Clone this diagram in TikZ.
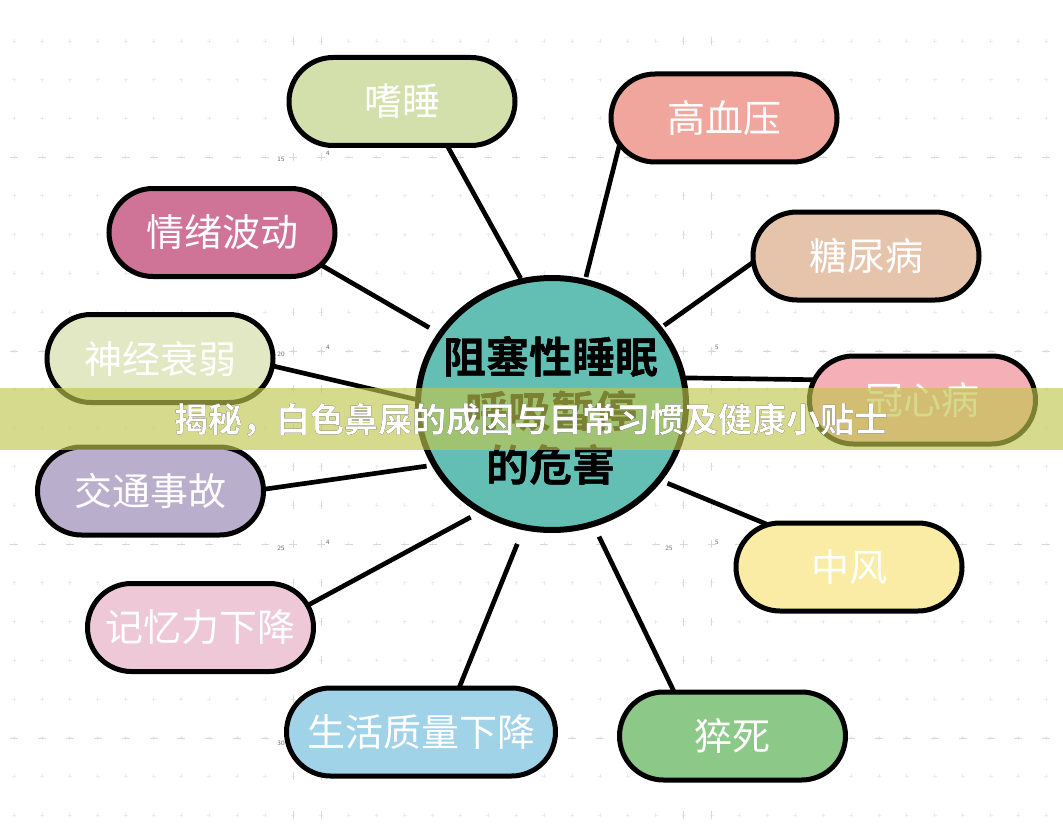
\documentclass[tikz,border=0pt]{standalone}
\usepackage{fontspec}
\usepackage{pdfrender}
\newfontfamily\cjk{Noto Sans CJK SC}[BoldFont={Noto Sans CJK SC Bold}]
\usetikzlibrary{shapes.geometric}

\pgfdeclarelayer{paper}
\pgfdeclarelayer{links}
\pgfsetlayers{paper,links,main}

\definecolor{napfill}{HTML}{D4E0AC}
\definecolor{bpfill}{HTML}{F0A69C}
\definecolor{moodfill}{HTML}{CF7496}
\definecolor{sugarfill}{HTML}{E6C4AC}
\definecolor{nervefill}{HTML}{E1E8C3}
\definecolor{heartfill}{HTML}{F5AFB7}
\definecolor{trafficfill}{HTML}{BAAECD}
\definecolor{strokefill}{HTML}{FAECA5}
\definecolor{memoryfill}{HTML}{EEC8D6}
\definecolor{lifefill}{HTML}{A0D2E8}
\definecolor{deathfill}{HTML}{8CC887}
\definecolor{hubfill}{HTML}{63BFB4}
\definecolor{bannerfill}{RGB}{192,198,78}
\definecolor{headrim}{RGB}{70,70,60}

\tikzset{
  harm/.style={draw, line width=3.75pt, rounded corners=33pt,
    minimum width=169.5pt, minimum height=66pt, inner sep=0pt,
    text=white, font=\cjk\fontsize{28.5pt}{30pt}\selectfont},
  hub/.style={ellipse, draw, line width=4.5pt, fill=hubfill,
    minimum width=201pt, minimum height=189pt, inner sep=0pt},
  hubtext/.style={align=center, inner sep=0pt,
    font=\cjk\bfseries\fontsize{32.25pt}{40.5pt}\selectfont},
  hubrim/.style={hubtext, font=\cjk\bfseries\fontsize{32.25pt}{40.5pt}\selectfont
    \pdfrender{TextRenderingMode=Stroke, LineWidth=4.5pt, StrokeColor=white, LineJoinStyle=Round}},
  headline/.style={inner sep=0pt, font=\cjk\bfseries\fontsize{25.5pt}{26pt}\selectfont},
  headrimline/.style={inner sep=0pt, font=\cjk\bfseries\fontsize{25.5pt}{26pt}\selectfont
    \pdfrender{TextRenderingMode=Stroke, LineWidth=2.6pt, StrokeColor=headrim, LineJoinStyle=Round}},
  link/.style={line width=3.5pt, shorten >=-15pt},
  gridmark/.style={gray!15, line width=0.5pt},
  gridline/.style={gray!30, line width=0.6pt},
  gridnum/.style={inner sep=0pt, text=gray!80!black, font=\sffamily\fontsize{5pt}{5pt}\selectfont}
}

\begin{document}
\begin{tikzpicture}[x=0.75pt, y=-0.75pt]
\useasboundingbox (0,0) rectangle (1063,838);

% faint sheet grid
\begin{pgfonlayer}{paper}
\foreach \r in {0,...,20}
  \foreach \c in {0,...,37}
    \draw[gridmark] (14+27.9*\c,41+38.7*\r) +(-2,0) -- +(2,0) +(0,-2) -- +(0,2);
\foreach \y in {157,351,544,738}
  \foreach \c in {0,...,37}
    \draw[gridline] (10+27.9*\c,\y) -- +(8,0);
\foreach \x in {293,321,683,711}
  \foreach \r in {0,...,20}
    \draw[gridline] (\x,41+38.7*\r) +(0,-4) -- +(0,4);
\end{pgfonlayer}
\node[gridnum] (num15) at (281,159) {15};
\node[gridnum] (num4a) at (328,153) {4};
\node[gridnum] (num20) at (281,354) {20};
\node[gridnum] (num4b) at (328,347) {4};
\node[gridnum] (num5a) at (717,347) {5};
\node[gridnum] (num25a) at (281,548) {25};
\node[gridnum] (num4c) at (328,542) {4};
\node[gridnum] (num25b) at (669,548) {25};
\node[gridnum] (num5b) at (717,542) {5};
\node[gridnum] (num30) at (281,743) {30};

% harms
\node[harm, fill=napfill] (nap) at (402,101.5) {嗜睡};
\node[harm, fill=bpfill] (bp) at (724,118) {高血压};
\node[harm, fill=moodfill] (mood) at (222,232.5) {情绪波动};
\node[harm, fill=sugarfill] (sugar) at (866,256) {糖尿病};
\node[harm, fill=nervefill] (nerve) at (160,358.5) {神经衰弱};
\node[harm, fill=heartfill] (heart) at (922.5,400) {冠心病};
\node[harm, fill=trafficfill] (traffic) at (150.5,491) {交通事故};
\node[harm, fill=strokefill] (stroke) at (849,567) {中风};
\node[harm, fill=memoryfill] (memory) at (200.5,627.5) {记忆力下降};
\node[harm, fill=lifefill, minimum width=201.75pt] (life) at (421,732) {生活质量下降};
\node[harm, fill=deathfill] (death) at (732.5,736) {猝死};

% centre
\node[hub] (hub) at (552,404) {};
\node[hubrim] (hubhalo) at (551,411) {阻塞性睡眠\\呼吸暂停\\的危害};
\node[hubtext] (hubtitle) at (551,411) {阻塞性睡眠\\呼吸暂停\\的危害};

\begin{pgfonlayer}{links}
\draw[link] (hub.104) -- (nap.-45);
\draw[link, shorten <=1.5pt] (hub.75) -- (bp.203);
\draw[link, shorten <=7.5pt] (hub.148) -- (mood.-20);
\draw[link, shorten <=2pt] (hub.35) -- (sugar.184);
\draw[link] (hub.178) -- (nerve.-4);
\draw[link] (hub.11) -- (heart.170);
\draw[link, shorten <=3.75pt] (hub.207) -- (traffic.1);
\draw[link, shorten <=4.5pt] (hub.-35) -- (stroke.153);
\draw[link, shorten <=6.75pt] (hub.236) -- (memory.13);
\draw[link, shorten <=11.25pt] (hub.257) -- (life.50);
\draw[link, shorten <=8.25pt] (hub.-71) -- (death.142);
\end{pgfonlayer}

% banner
\fill[bannerfill, opacity=.65] (0,388) rectangle (1063,450);
\node[headrimline] (headhalo) at (531,420) {揭秘，白色鼻屎的成因与日常习惯及健康小贴士};
\node[headline, text=white] (headtitle) at (531,420) {揭秘，白色鼻屎的成因与日常习惯及健康小贴士};
\end{tikzpicture}
\end{document}
